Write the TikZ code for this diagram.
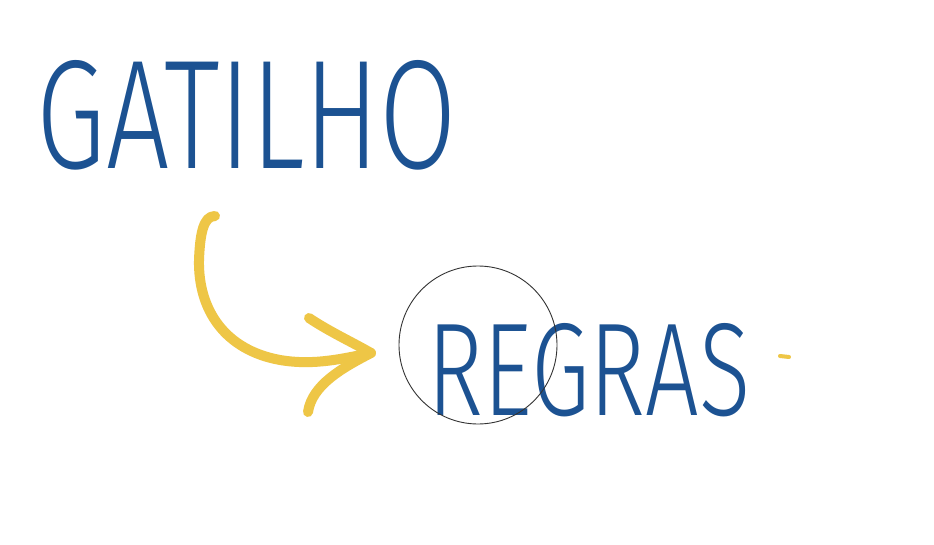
\documentclass[tikz,border=0pt]{standalone}
\usepackage{fontspec}
\setmainfont{Fira Sans Light}
\usepackage{graphicx}
\definecolor{inkblue}{RGB}{28,82,146}
\definecolor{inkyellow}{RGB}{238,198,70}
\tikzset{
  handword/.style={inner sep=0pt, outer sep=0pt, text=inkblue},
  yellowstroke/.style={draw=inkyellow, line width=10pt, line cap=round, line join=round},
  focusring/.style={draw=black!80, line width=0.9pt}
}
\begin{document}
\begin{tikzpicture}[x=1pt,y=-1pt]
\useasboundingbox[fill=white] (0,0) rectangle (934,545);
% words
\node[handword] (gatilho) at (247,115) {\resizebox{420pt}{108pt}{GATILHO}};
\node[handword] (regras) at (589,370) {\resizebox{323pt}{92pt}{REGRAS}};
% focus circle
\node[focusring, circle, minimum size=158pt, inner sep=0pt] (ring) at (478,345) {};
% hand-drawn arrow
\coordinate (a0) at (215,216);
\coordinate (tip) at (371,353);
\coordinate (barbU) at (309,318);
\coordinate (barbL) at (308,412);
\draw[yellowstroke] (a0) .. controls (203,216) and (200,235) .. (199,260)
  .. controls (198,310) and (225,350) .. (280,360)
  .. controls (315,366) and (345,358) .. (tip);
\draw[yellowstroke] (barbU) .. controls (330,332) and (352,342) .. (tip)
  .. controls (342,368) and (312,385) .. (barbL);
% small yellow dash
\coordinate (d0) at (780,356);
\coordinate (d1) at (789,357);
\draw[draw=inkyellow, line width=4pt, line cap=round] (d0) -- (d1);
\end{tikzpicture}
\end{document}
